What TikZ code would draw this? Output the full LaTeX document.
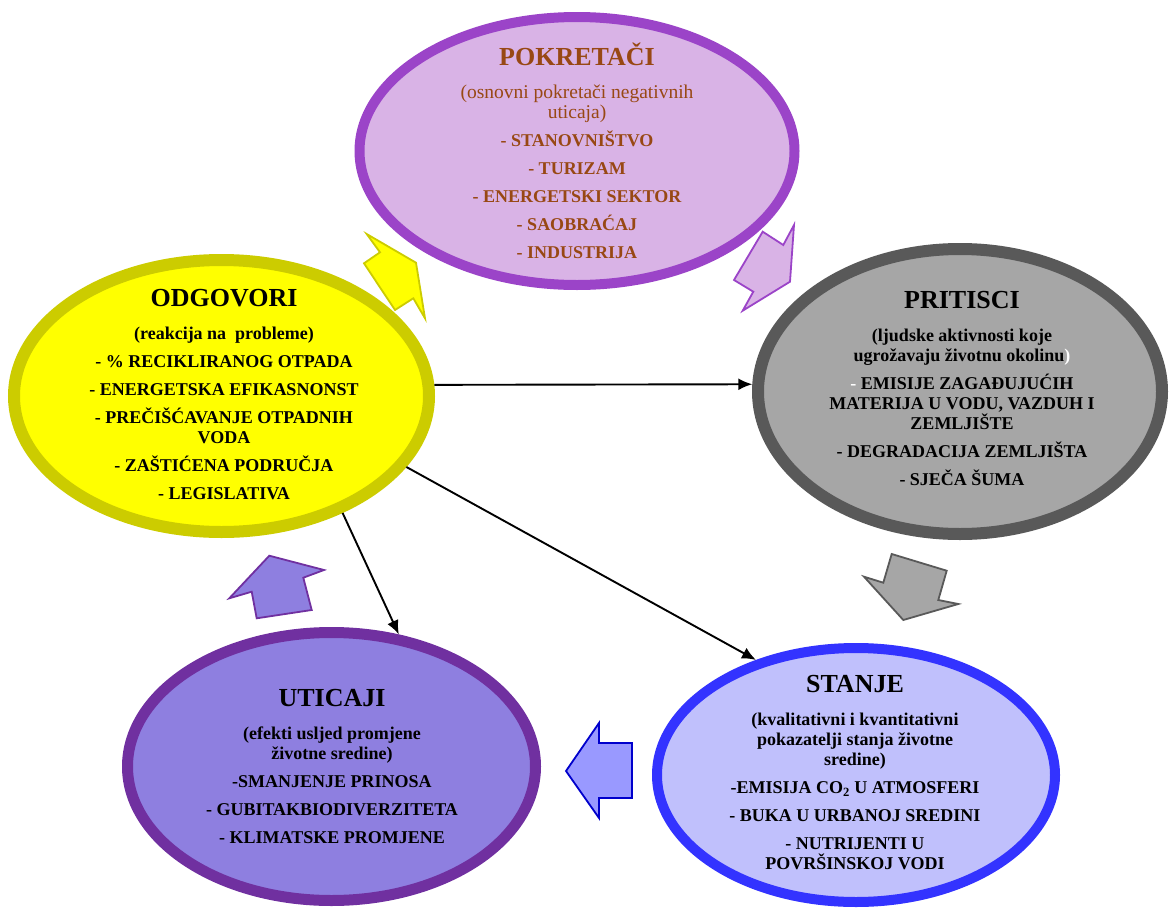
\documentclass[tikz,border=0pt]{standalone}
\usepackage{fontspec}
\setmainfont{Liberation Serif}
\usetikzlibrary{arrows.meta,shapes.geometric,positioning}

\definecolor{pokfill}{RGB}{217,179,230}
\definecolor{pokline}{RGB}{155,68,200}
\definecolor{pokink}{RGB}{152,72,20}
\definecolor{odgfill}{RGB}{255,255,0}
\definecolor{odgline}{RGB}{204,204,0}
\definecolor{pritfill}{RGB}{166,166,166}
\definecolor{pritline}{RGB}{89,89,89}
\definecolor{stanfill}{RGB}{192,192,252}
\definecolor{stanline}{RGB}{51,51,255}
\definecolor{stanarrow}{RGB}{153,153,255}
\definecolor{stanarrowline}{RGB}{0,0,204}
\definecolor{uticfill}{RGB}{142,127,224}
\definecolor{uticline}{RGB}{112,48,160}

\newcommand{\blobtitle}[1]{{\fontsize{26}{28}\selectfont #1}}
\newcommand{\plain}[1]{{\mdseries\fontsize{19.5}{21}\selectfont #1}}

\begin{document}
\begin{tikzpicture}[
  x=1pt, y=-1pt,
  font=\bfseries\fontsize{18}{20}\selectfont,
  blob/.style={ellipse, inner sep=0pt},
  blobtext/.style={align=center, inner sep=0pt},
  link/.style={-{Latex[length=14pt,width=12pt]}, line width=1.9pt},
  block/.style={line width=1.8pt, line join=miter}
]
\useasboundingbox (0,0) rectangle (1171,908);

% ellipses
\node[blob, draw=pokline, line width=10pt, fill=pokfill, minimum width=435pt, minimum height=268pt] (pok) at (577,151) {};
\node[blob, draw=odgline, line width=12pt, fill=odgfill, minimum width=415pt, minimum height=272pt] (odg) at (221.5,396) {};
\node[blob, draw=pritline, line width=12pt, fill=pritfill, minimum width=404pt, minimum height=285pt] (prit) at (960,391.5) {};
\node[blob, draw=stanline, line width=10pt, fill=stanfill, minimum width=398pt, minimum height=254pt] (stan) at (856,775) {};
\node[blob, draw=uticline, line width=11pt, fill=uticfill, minimum width=408pt, minimum height=268pt] (utic) at (331.5,766.5) {};

% texts
\node[blobtext, text=pokink] (poktext) at (577,151) {\blobtitle{POKRETAČI}\\[13pt]
  \plain{(osnovni pokretači negativnih}\\\plain{uticaja)}\\[8pt]
  - STANOVNIŠTVO\\[8pt]
  - TURIZAM\\[8pt]
  - ENERGETSKI SEKTOR\\[8pt]
  - SAOBRAĆAJ\\[8pt]
  - INDUSTRIJA};
\node[blobtext] (odgtext) at (224,395) {\blobtitle{ODGOVORI}\\[13pt]
  (reakcija na~ probleme)\\[8pt]
  - \% RECIKLIRANOG OTPADA\\[8pt]
  - ENERGETSKA EFIKASNONST\\[8pt]
  - PREČIŠĆAVANJE OTPADNIH\\VODA\\[8pt]
  - ZAŠTIĆENA PODRUČJA\\[8pt]
  - LEGISLATIVA};
\node[blobtext] (prittext) at (962,388) {\blobtitle{PRITISCI}\\[13pt]
  (ljudske aktivnosti koje\\ugrožavaju životnu okolinu\textcolor{white}{)}\\[8pt]
  \textcolor{white}{-} EMISIJE ZAGAĐUJUĆIH\\MATERIJA U VODU, VAZDUH I\\ZEMLJIŠTE\\[8pt]
  - DEGRADACIJA ZEMLJIŠTA\\[8pt]
  - SJEČA ŠUMA};
\node[blobtext] (stantext) at (855,773) {\blobtitle{STANJE}\\[13pt]
  (kvalitativni i kvantitativni\\pokazatelji stanja životne\\sredine)\\[8pt]
  -EMISIJA CO\textsubscript{2} U ATMOSFERI\\[8pt]
  - BUKA U URBANOJ SREDINI\\[8pt]
  - NUTRIJENTI U\\POVRŠINSKOJ VODI};
\node[blobtext] (utictext) at (332,766) {\blobtitle{UTICAJI}\\[13pt]
  (efekti usljed promjene\\životne sredine)\\[8pt]
  -SMANJENJE PRINOSA\\[8pt]
  - GUBITAKBIODIVERZITETA\\[8pt]
  - KLIMATSKE PROMJENE};

% block arrows of the cycle
\draw[block, draw=odgline, fill=odgfill] (366.7,234) -- (380,252.3) -- (364,263.3) -- (395,310) -- (413.3,298.3) -- (425,318.3) -- (416,262.7) -- cycle;
\draw[block, draw=pokline, fill=pokfill] (762.7,231.7) -- (783.3,245) -- (794,225) -- (790,281.7) -- (742.7,310.7) -- (753.3,291.7) -- (734,280) -- cycle;
\draw[block, draw=pritline, fill=pritfill] (891.7,554) -- (946.7,570.7) -- (938.3,600) -- (958.3,604) -- (903.3,620) -- (864,576.7) -- (883.3,582.7) -- cycle;
\draw[block, draw=stanarrowline, fill=stanarrow] (566,771) -- (599,723) -- (599,743) -- (632,743) -- (632,798) -- (599,798) -- (599,818) -- cycle;
\draw[block, draw=uticline, fill=uticfill] (269.3,555.7) -- (324,570) -- (303.3,577.7) -- (311.7,610) -- (256.7,618.3) -- (251.7,591.7) -- (229.3,598.3) -- cycle;

% responses
\draw[link] (odg.3) -- (prit.178);
\draw[link] (odg.-21) -- (stan.131);
\draw[link] (odg.-44) -- (utic.63);

\end{tikzpicture}
\end{document}
